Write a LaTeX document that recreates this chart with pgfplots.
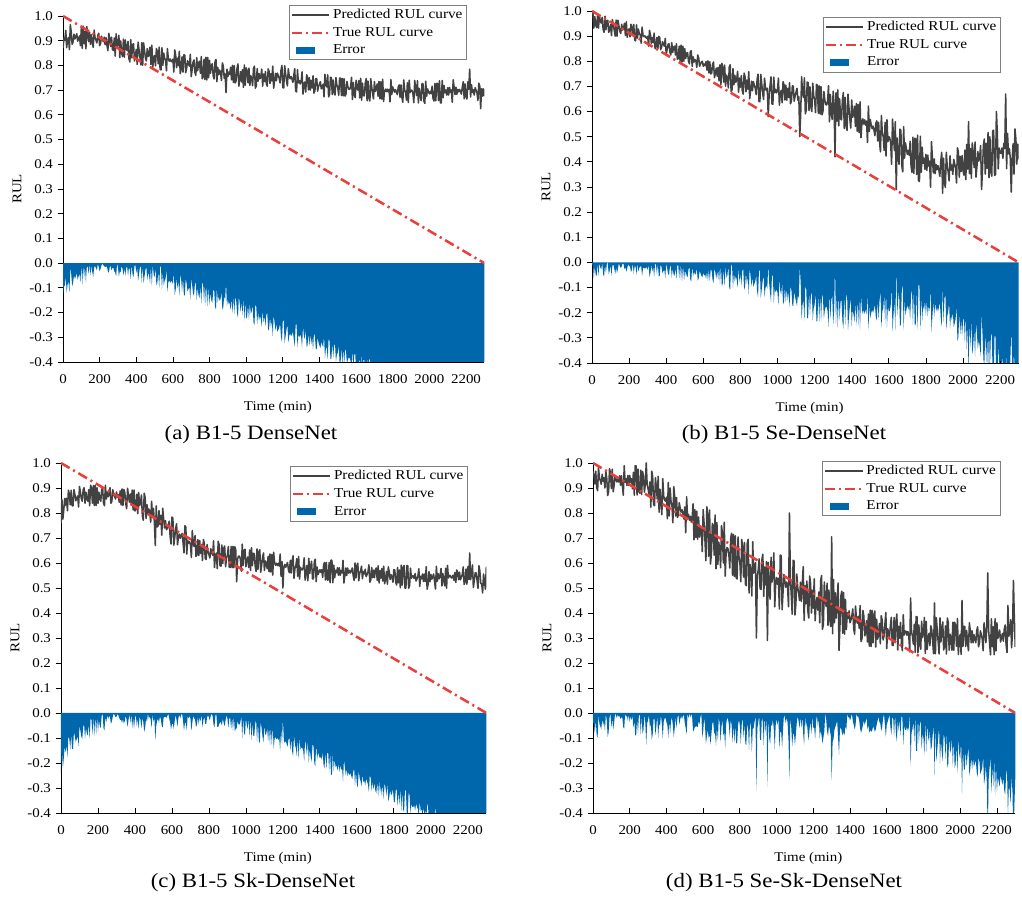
\documentclass[border=0pt]{standalone}
\usepackage{fontspec}
\setmainfont{Liberation Serif}[FakeStretch=1.12]
\usepackage{pgfplots}
\usepackage{pgfplotstable}
\pgfplotsset{compat=1.18}

\definecolor{predgray}{RGB}{66,66,66}
\definecolor{truered}{RGB}{232,64,60}
\definecolor{errblue}{RGB}{0,103,172}

% predicted RUL, one value every 5 min
\pgfplotstableread[row sep=\\]{
t p\\
0 0.870\\ 5 0.911\\ 10 0.901\\ 15 0.942\\ 20 0.872\\ 25 0.903\\ 30 0.913\\ 35 0.864\\ 40 0.965\\ 45 0.935\\ 50 0.885\\ 55 0.896\\ 60 0.926\\ 65 0.907\\ 70 0.917\\ 75 0.928\\ 80 0.898\\ 85 0.909\\ 90 0.919\\ 95 0.880\\
100 0.950\\ 105 0.869\\ 110 0.959\\ 115 0.888\\ 120 0.938\\ 125 0.867\\ 130 0.957\\ 135 0.926\\ 140 0.896\\ 145 0.935\\ 150 0.885\\ 155 0.924\\ 160 0.894\\ 165 0.873\\ 170 0.943\\ 175 0.912\\ 180 0.902\\ 185 0.891\\ 190 0.921\\ 195 0.930\\
200 0.880\\ 205 0.888\\ 210 0.918\\ 215 0.906\\ 220 0.896\\ 225 0.914\\ 230 0.884\\ 235 0.912\\ 240 0.882\\ 245 0.860\\ 250 0.930\\ 255 0.907\\ 260 0.877\\ 265 0.914\\ 270 0.864\\ 275 0.861\\ 280 0.911\\ 285 0.838\\ 290 0.928\\ 295 0.875\\
300 0.885\\ 305 0.922\\ 310 0.832\\ 315 0.899\\ 320 0.849\\ 325 0.836\\ 330 0.906\\ 335 0.833\\ 340 0.903\\ 345 0.870\\ 350 0.860\\ 355 0.897\\ 360 0.827\\ 365 0.814\\ 370 0.904\\ 375 0.831\\ 380 0.881\\ 385 0.888\\ 390 0.818\\ 395 0.835\\
400 0.865\\ 405 0.804\\ 410 0.894\\ 415 0.863\\ 420 0.833\\ 425 0.802\\ 430 0.892\\ 435 0.801\\ 440 0.891\\ 445 0.860\\ 450 0.830\\ 455 0.818\\ 460 0.868\\ 465 0.836\\ 470 0.846\\ 475 0.874\\ 480 0.804\\ 485 0.882\\ 490 0.792\\ 495 0.830\\
500 0.840\\ 505 0.798\\ 510 0.868\\ 515 0.856\\ 520 0.806\\ 525 0.874\\ 530 0.784\\ 535 0.782\\ 540 0.872\\ 545 0.800\\ 550 0.850\\ 555 0.829\\ 560 0.819\\ 565 0.778\\ 570 0.868\\ 575 0.827\\ 580 0.817\\ 585 0.826\\ 590 0.816\\ 595 0.815\\
600 0.825\\ 605 0.773\\ 610 0.863\\ 615 0.841\\ 620 0.791\\ 625 0.829\\ 630 0.799\\ 635 0.857\\ 640 0.767\\ 645 0.785\\ 650 0.835\\ 655 0.773\\ 660 0.843\\ 665 0.841\\ 670 0.771\\ 675 0.789\\ 680 0.819\\ 685 0.807\\ 690 0.797\\ 695 0.845\\
700 0.755\\ 705 0.783\\ 710 0.814\\ 715 0.822\\ 720 0.772\\ 725 0.760\\ 730 0.831\\ 735 0.779\\ 740 0.809\\ 745 0.817\\ 750 0.768\\ 755 0.836\\ 760 0.746\\ 765 0.754\\ 770 0.825\\ 775 0.743\\ 780 0.833\\ 785 0.741\\ 790 0.832\\ 795 0.750\\
800 0.820\\ 805 0.768\\ 810 0.799\\ 815 0.807\\ 820 0.757\\ 825 0.745\\ 830 0.816\\ 835 0.824\\ 840 0.734\\ 845 0.792\\ 850 0.763\\ 855 0.781\\ 860 0.771\\ 865 0.739\\ 870 0.810\\ 875 0.798\\ 880 0.748\\ 885 0.766\\ 890 0.690\\ 895 0.785\\
900 0.755\\ 905 0.773\\ 910 0.764\\ 915 0.792\\ 920 0.742\\ 925 0.800\\ 930 0.731\\ 935 0.799\\ 940 0.729\\ 945 0.737\\ 950 0.788\\ 955 0.806\\ 960 0.716\\ 965 0.744\\ 970 0.775\\ 975 0.733\\ 980 0.783\\ 985 0.711\\ 990 0.802\\ 995 0.720\\
1000 0.790\\ 1005 0.779\\ 1010 0.730\\ 1015 0.789\\ 1020 0.719\\ 1025 0.758\\ 1030 0.749\\ 1035 0.718\\ 1040 0.788\\ 1045 0.797\\ 1050 0.708\\ 1055 0.717\\ 1060 0.787\\ 1065 0.736\\ 1070 0.767\\ 1075 0.746\\ 1080 0.756\\ 1085 0.785\\ 1090 0.716\\ 1095 0.765\\
1100 0.735\\ 1105 0.775\\ 1110 0.726\\ 1115 0.716\\ 1120 0.786\\ 1125 0.776\\ 1130 0.727\\ 1135 0.767\\ 1140 0.737\\ 1145 0.797\\ 1150 0.708\\ 1155 0.738\\ 1160 0.768\\ 1165 0.738\\ 1170 0.769\\ 1175 0.759\\ 1180 0.749\\ 1185 0.729\\ 1190 0.780\\ 1195 0.800\\
1200 0.710\\ 1205 0.709\\ 1210 0.799\\ 1215 0.768\\ 1220 0.738\\ 1225 0.717\\ 1230 0.787\\ 1235 0.756\\ 1240 0.746\\ 1245 0.755\\ 1250 0.745\\ 1255 0.731\\ 1260 0.761\\ 1265 0.787\\ 1270 0.697\\ 1275 0.693\\ 1280 0.783\\ 1285 0.729\\ 1290 0.739\\ 1295 0.725\\
1300 0.735\\ 1305 0.774\\ 1310 0.684\\ 1315 0.723\\ 1320 0.733\\ 1325 0.692\\ 1330 0.762\\ 1335 0.751\\ 1340 0.701\\ 1345 0.750\\ 1350 0.700\\ 1355 0.739\\ 1360 0.709\\ 1365 0.758\\ 1370 0.688\\ 1375 0.697\\ 1380 0.747\\ 1385 0.746\\ 1390 0.696\\ 1395 0.715\\
1400 0.725\\ 1405 0.734\\ 1410 0.705\\ 1415 0.714\\ 1420 0.724\\ 1425 0.673\\ 1430 0.764\\ 1435 0.723\\ 1440 0.713\\ 1445 0.762\\ 1450 0.673\\ 1455 0.682\\ 1460 0.752\\ 1465 0.751\\ 1470 0.682\\ 1475 0.741\\ 1480 0.691\\ 1485 0.680\\ 1490 0.751\\ 1495 0.720\\
1500 0.710\\ 1505 0.679\\ 1510 0.749\\ 1515 0.748\\ 1520 0.678\\ 1525 0.747\\ 1530 0.677\\ 1535 0.746\\ 1540 0.676\\ 1545 0.685\\ 1550 0.735\\ 1555 0.714\\ 1560 0.704\\ 1565 0.703\\ 1570 0.713\\ 1575 0.752\\ 1580 0.662\\ 1585 0.731\\ 1590 0.681\\ 1595 0.670\\
1600 0.740\\ 1605 0.709\\ 1610 0.700\\ 1615 0.739\\ 1620 0.669\\ 1625 0.748\\ 1630 0.659\\ 1635 0.728\\ 1640 0.678\\ 1645 0.677\\ 1650 0.728\\ 1655 0.747\\ 1660 0.657\\ 1665 0.736\\ 1670 0.667\\ 1675 0.656\\ 1680 0.746\\ 1685 0.715\\ 1690 0.686\\ 1695 0.665\\
1700 0.735\\ 1705 0.695\\ 1710 0.705\\ 1715 0.725\\ 1720 0.675\\ 1725 0.735\\ 1730 0.665\\ 1735 0.734\\ 1740 0.664\\ 1745 0.744\\ 1750 0.654\\ 1755 0.694\\ 1760 0.704\\ 1765 0.694\\ 1770 0.704\\ 1775 0.693\\ 1780 0.703\\ 1785 0.653\\ 1790 0.743\\ 1795 0.683\\
1800 0.713\\ 1805 0.702\\ 1810 0.692\\ 1815 0.702\\ 1820 0.692\\ 1825 0.682\\ 1830 0.712\\ 1835 0.721\\ 1840 0.671\\ 1845 0.721\\ 1850 0.671\\ 1855 0.651\\ 1860 0.741\\ 1865 0.700\\ 1870 0.690\\ 1875 0.660\\ 1880 0.730\\ 1885 0.650\\ 1890 0.740\\ 1895 0.690\\
1900 0.700\\ 1905 0.699\\ 1910 0.689\\ 1915 0.649\\ 1920 0.739\\ 1925 0.708\\ 1930 0.678\\ 1935 0.738\\ 1940 0.648\\ 1945 0.707\\ 1950 0.677\\ 1955 0.657\\ 1960 0.727\\ 1965 0.726\\ 1970 0.656\\ 1975 0.646\\ 1980 0.736\\ 1985 0.675\\ 1990 0.705\\ 1995 0.695\\
2000 0.685\\ 2005 0.695\\ 2010 0.686\\ 2015 0.716\\ 2020 0.666\\ 2025 0.656\\ 2030 0.727\\ 2035 0.657\\ 2040 0.727\\ 2045 0.727\\ 2050 0.658\\ 2055 0.738\\ 2060 0.648\\ 2065 0.648\\ 2070 0.739\\ 2075 0.669\\ 2080 0.719\\ 2085 0.689\\ 2090 0.700\\ 2095 0.680\\
2100 0.710\\ 2105 0.680\\ 2110 0.711\\ 2115 0.691\\ 2120 0.701\\ 2125 0.651\\ 2130 0.742\\ 2135 0.712\\ 2140 0.682\\ 2145 0.712\\ 2150 0.683\\ 2155 0.703\\ 2160 0.693\\ 2165 0.703\\ 2170 0.694\\ 2175 0.684\\ 2180 0.714\\ 2185 0.734\\ 2190 0.665\\ 2195 0.725\\
2200 0.675\\ 2205 0.664\\ 2210 0.734\\ 2215 0.703\\ 2220 0.785\\ 2225 0.672\\ 2230 0.722\\ 2235 0.691\\ 2240 0.701\\ 2245 0.680\\ 2250 0.710\\ 2255 0.699\\ 2260 0.689\\ 2265 0.658\\ 2270 0.728\\ 2275 0.717\\ 2280 0.625\\ 2285 0.706\\ 2290 0.676\\ 2295 0.705\\
2300 0.675\\
}\tabA

\pgfplotstableread[row sep=\\]{
t p\\
0 0.985\\ 5 0.994\\ 10 0.932\\ 15 0.978\\ 20 0.944\\ 25 0.934\\ 30 0.984\\ 35 0.932\\ 40 0.982\\ 45 0.958\\ 50 0.952\\ 55 0.975\\ 60 0.927\\ 65 0.915\\ 70 0.979\\ 75 0.925\\ 80 0.961\\ 85 0.963\\ 90 0.915\\ 95 0.924\\
100 0.946\\ 105 0.902\\ 110 0.966\\ 115 0.943\\ 120 0.923\\ 125 0.900\\ 130 0.964\\ 135 0.899\\ 140 0.963\\ 145 0.940\\ 150 0.920\\ 155 0.911\\ 160 0.947\\ 165 0.924\\ 170 0.932\\ 175 0.951\\ 180 0.903\\ 185 0.957\\ 190 0.895\\ 195 0.921\\
200 0.929\\ 205 0.897\\ 210 0.947\\ 215 0.936\\ 220 0.902\\ 225 0.947\\ 230 0.885\\ 235 0.881\\ 240 0.945\\ 245 0.892\\ 250 0.928\\ 255 0.910\\ 260 0.904\\ 265 0.872\\ 270 0.936\\ 275 0.904\\ 280 0.898\\ 285 0.901\\ 290 0.895\\ 295 0.891\\
300 0.899\\ 305 0.860\\ 310 0.923\\ 315 0.905\\ 320 0.871\\ 325 0.895\\ 330 0.874\\ 335 0.912\\ 340 0.850\\ 345 0.860\\ 350 0.895\\ 355 0.849\\ 360 0.899\\ 365 0.895\\ 370 0.846\\ 375 0.856\\ 380 0.878\\ 385 0.867\\ 390 0.860\\ 395 0.891\\
400 0.829\\ 405 0.846\\ 410 0.867\\ 415 0.870\\ 420 0.836\\ 425 0.825\\ 430 0.874\\ 435 0.835\\ 440 0.857\\ 445 0.860\\ 450 0.825\\ 455 0.870\\ 460 0.808\\ 465 0.811\\ 470 0.860\\ 475 0.800\\ 480 0.864\\ 485 0.797\\ 490 0.860\\ 495 0.800\\
500 0.850\\ 505 0.811\\ 510 0.832\\ 515 0.835\\ 520 0.801\\ 525 0.790\\ 530 0.839\\ 535 0.842\\ 540 0.780\\ 545 0.818\\ 550 0.797\\ 555 0.807\\ 560 0.801\\ 565 0.776\\ 570 0.825\\ 575 0.814\\ 580 0.780\\ 585 0.790\\ 590 0.797\\ 595 0.800\\
600 0.780\\ 605 0.789\\ 610 0.783\\ 615 0.799\\ 620 0.765\\ 625 0.802\\ 630 0.754\\ 635 0.798\\ 640 0.750\\ 645 0.752\\ 650 0.788\\ 655 0.797\\ 660 0.735\\ 665 0.751\\ 670 0.773\\ 675 0.740\\ 680 0.776\\ 685 0.722\\ 690 0.786\\ 695 0.708\\
700 0.792\\ 705 0.776\\ 710 0.717\\ 715 0.785\\ 720 0.701\\ 725 0.745\\ 730 0.734\\ 735 0.694\\ 740 0.778\\ 745 0.786\\ 750 0.679\\ 755 0.687\\ 760 0.771\\ 765 0.707\\ 770 0.744\\ 775 0.716\\ 780 0.728\\ 785 0.760\\ 790 0.677\\ 795 0.733\\
800 0.697\\ 805 0.743\\ 810 0.683\\ 815 0.669\\ 820 0.753\\ 825 0.739\\ 830 0.679\\ 835 0.725\\ 840 0.689\\ 845 0.759\\ 850 0.651\\ 855 0.685\\ 860 0.721\\ 865 0.683\\ 870 0.719\\ 875 0.705\\ 880 0.693\\ 885 0.667\\ 890 0.727\\ 895 0.749\\
900 0.641\\ 905 0.639\\ 910 0.748\\ 915 0.710\\ 920 0.674\\ 925 0.648\\ 930 0.733\\ 935 0.695\\ 940 0.683\\ 945 0.693\\ 950 0.580\\ 955 0.668\\ 960 0.704\\ 965 0.738\\ 970 0.631\\ 975 0.629\\ 980 0.737\\ 985 0.675\\ 990 0.688\\ 995 0.674\\
1000 0.686\\ 1005 0.733\\ 1010 0.625\\ 1015 0.672\\ 1020 0.684\\ 1025 0.635\\ 1030 0.719\\ 1035 0.706\\ 1040 0.646\\ 1045 0.705\\ 1050 0.645\\ 1055 0.692\\ 1060 0.656\\ 1065 0.715\\ 1070 0.631\\ 1075 0.642\\ 1080 0.702\\ 1085 0.701\\ 1090 0.641\\ 1095 0.662\\
1100 0.678\\ 1105 0.692\\ 1110 0.645\\ 1115 0.659\\ 1120 0.500\\ 1125 0.593\\ 1130 0.738\\ 1135 0.672\\ 1140 0.656\\ 1145 0.734\\ 1150 0.591\\ 1155 0.605\\ 1160 0.717\\ 1165 0.715\\ 1170 0.604\\ 1175 0.698\\ 1180 0.618\\ 1185 0.600\\ 1190 0.713\\ 1195 0.663\\
1200 0.647\\ 1205 0.596\\ 1210 0.708\\ 1215 0.705\\ 1220 0.593\\ 1225 0.702\\ 1230 0.590\\ 1235 0.699\\ 1240 0.587\\ 1245 0.600\\ 1250 0.680\\ 1255 0.645\\ 1260 0.629\\ 1265 0.626\\ 1270 0.642\\ 1275 0.703\\ 1280 0.559\\ 1285 0.668\\ 1290 0.588\\ 1295 0.569\\
1300 0.681\\ 1305 0.629\\ 1310 0.420\\ 1315 0.674\\ 1320 0.562\\ 1325 0.686\\ 1330 0.543\\ 1335 0.651\\ 1340 0.571\\ 1345 0.567\\ 1350 0.648\\ 1355 0.676\\ 1360 0.532\\ 1365 0.656\\ 1370 0.545\\ 1375 0.525\\ 1380 0.669\\ 1385 0.617\\ 1390 0.570\\ 1395 0.534\\
1400 0.646\\ 1405 0.577\\ 1410 0.594\\ 1415 0.621\\ 1420 0.541\\ 1425 0.632\\ 1430 0.521\\ 1435 0.628\\ 1440 0.516\\ 1445 0.639\\ 1450 0.496\\ 1455 0.555\\ 1460 0.571\\ 1465 0.550\\ 1470 0.567\\ 1475 0.546\\ 1480 0.562\\ 1485 0.477\\ 1490 0.622\\ 1495 0.521\\
1500 0.569\\ 1505 0.547\\ 1510 0.532\\ 1515 0.542\\ 1520 0.526\\ 1525 0.504\\ 1530 0.553\\ 1535 0.563\\ 1540 0.483\\ 1545 0.557\\ 1550 0.478\\ 1555 0.440\\ 1560 0.584\\ 1565 0.514\\ 1570 0.499\\ 1575 0.445\\ 1580 0.557\\ 1585 0.423\\ 1590 0.568\\ 1595 0.480\\
1600 0.500\\ 1605 0.495\\ 1610 0.475\\ 1615 0.390\\ 1620 0.570\\ 1625 0.505\\ 1630 0.445\\ 1635 0.560\\ 1640 0.290\\ 1645 0.495\\ 1650 0.435\\ 1655 0.390\\ 1660 0.530\\ 1665 0.525\\ 1670 0.385\\ 1675 0.360\\ 1680 0.540\\ 1685 0.415\\ 1690 0.475\\ 1695 0.450\\
1700 0.430\\ 1705 0.446\\ 1710 0.426\\ 1715 0.482\\ 1720 0.382\\ 1725 0.358\\ 1730 0.498\\ 1735 0.354\\ 1740 0.494\\ 1745 0.490\\ 1750 0.350\\ 1755 0.506\\ 1760 0.326\\ 1765 0.322\\ 1770 0.502\\ 1775 0.358\\ 1780 0.458\\ 1785 0.394\\ 1790 0.414\\ 1795 0.370\\
1800 0.430\\ 1805 0.366\\ 1810 0.427\\ 1815 0.383\\ 1820 0.403\\ 1825 0.299\\ 1830 0.480\\ 1835 0.416\\ 1840 0.356\\ 1845 0.412\\ 1850 0.353\\ 1855 0.389\\ 1860 0.369\\ 1865 0.385\\ 1870 0.366\\ 1875 0.342\\ 1880 0.402\\ 1885 0.438\\ 1890 0.275\\ 1895 0.415\\
1900 0.315\\ 1905 0.298\\ 1910 0.438\\ 1915 0.381\\ 1920 0.361\\ 1925 0.324\\ 1930 0.424\\ 1935 0.367\\ 1940 0.387\\ 1945 0.350\\ 1950 0.410\\ 1955 0.393\\ 1960 0.373\\ 1965 0.316\\ 1970 0.456\\ 1975 0.439\\ 1980 0.339\\ 1985 0.422\\ 1990 0.362\\ 1995 0.425\\
2000 0.365\\ 2005 0.347\\ 2010 0.447\\ 2015 0.329\\ 2020 0.469\\ 2025 0.371\\ 2030 0.560\\ 2035 0.353\\ 2040 0.453\\ 2045 0.335\\ 2050 0.475\\ 2055 0.437\\ 2060 0.377\\ 2065 0.479\\ 2070 0.339\\ 2075 0.381\\ 2080 0.441\\ 2085 0.403\\ 2090 0.423\\ 2095 0.465\\
2100 0.290\\ 2105 0.368\\ 2110 0.468\\ 2115 0.491\\ 2120 0.351\\ 2125 0.474\\ 2130 0.374\\ 2135 0.517\\ 2140 0.337\\ 2145 0.500\\ 2150 0.360\\ 2155 0.343\\ 2160 0.523\\ 2165 0.526\\ 2170 0.346\\ 2175 0.349\\ 2180 0.600\\ 2185 0.512\\ 2190 0.372\\ 2195 0.455\\
2200 0.435\\ 2205 0.434\\ 2210 0.455\\ 2215 0.414\\ 2220 0.474\\ 2225 0.453\\ 2230 0.670\\ 2235 0.373\\ 2240 0.513\\ 2245 0.432\\ 2250 0.453\\ 2255 0.412\\ 2260 0.280\\ 2265 0.411\\ 2270 0.472\\ 2275 0.351\\ 2280 0.531\\ 2285 0.490\\ 2290 0.391\\ 2295 0.470\\
2300 0.410\\
}\tabB

\pgfplotstableread[row sep=\\]{
t p\\
0 0.760\\ 5 0.855\\ 10 0.775\\ 15 0.812\\ 20 0.858\\ 25 0.831\\ 30 0.859\\ 35 0.809\\ 40 0.891\\ 45 0.877\\ 50 0.833\\ 55 0.891\\ 60 0.829\\ 65 0.829\\ 70 0.893\\ 75 0.875\\ 80 0.849\\ 85 0.858\\ 90 0.868\\ 95 0.824\\
100 0.906\\ 105 0.883\\ 110 0.857\\ 115 0.847\\ 120 0.893\\ 125 0.901\\ 130 0.839\\ 135 0.883\\ 140 0.857\\ 145 0.847\\ 150 0.893\\ 155 0.829\\ 160 0.911\\ 165 0.901\\ 170 0.839\\ 175 0.910\\ 180 0.830\\ 185 0.910\\ 190 0.830\\ 195 0.901\\
200 0.839\\ 205 0.883\\ 210 0.857\\ 215 0.847\\ 220 0.893\\ 225 0.901\\ 230 0.839\\ 235 0.829\\ 240 0.911\\ 245 0.856\\ 250 0.884\\ 255 0.865\\ 260 0.875\\ 265 0.901\\ 270 0.839\\ 275 0.847\\ 280 0.893\\ 285 0.874\\ 290 0.866\\ 295 0.856\\
300 0.884\\ 305 0.863\\ 310 0.873\\ 315 0.843\\ 320 0.889\\ 325 0.832\\ 330 0.896\\ 335 0.830\\ 340 0.894\\ 345 0.882\\ 350 0.838\\ 355 0.817\\ 360 0.899\\ 365 0.869\\ 370 0.843\\ 375 0.876\\ 380 0.832\\ 385 0.892\\ 390 0.812\\ 395 0.892\\
400 0.808\\ 405 0.815\\ 410 0.875\\ 415 0.798\\ 420 0.882\\ 425 0.829\\ 430 0.841\\ 435 0.872\\ 440 0.788\\ 445 0.771\\ 450 0.879\\ 455 0.862\\ 460 0.778\\ 465 0.833\\ 470 0.797\\ 475 0.816\\ 480 0.804\\ 485 0.763\\ 490 0.847\\ 495 0.782\\
500 0.818\\ 505 0.763\\ 510 0.670\\ 515 0.828\\ 520 0.744\\ 525 0.749\\ 530 0.809\\ 535 0.754\\ 540 0.790\\ 545 0.711\\ 550 0.819\\ 555 0.776\\ 560 0.740\\ 565 0.769\\ 570 0.733\\ 575 0.738\\ 580 0.750\\ 585 0.767\\ 590 0.707\\ 595 0.676\\
600 0.784\\ 605 0.779\\ 610 0.671\\ 615 0.702\\ 620 0.738\\ 625 0.757\\ 630 0.673\\ 635 0.704\\ 640 0.716\\ 645 0.699\\ 650 0.711\\ 655 0.718\\ 660 0.682\\ 665 0.641\\ 670 0.749\\ 675 0.744\\ 680 0.636\\ 685 0.691\\ 690 0.679\\ 695 0.686\\
700 0.674\\ 705 0.622\\ 710 0.730\\ 715 0.678\\ 720 0.666\\ 725 0.710\\ 730 0.626\\ 735 0.634\\ 740 0.694\\ 745 0.630\\ 750 0.690\\ 755 0.638\\ 760 0.674\\ 765 0.610\\ 770 0.694\\ 775 0.678\\ 780 0.618\\ 785 0.614\\ 790 0.674\\ 795 0.646\\
800 0.634\\ 805 0.620\\ 810 0.657\\ 815 0.643\\ 820 0.631\\ 825 0.689\\ 830 0.582\\ 835 0.628\\ 840 0.640\\ 845 0.578\\ 850 0.687\\ 855 0.673\\ 860 0.589\\ 865 0.587\\ 870 0.672\\ 875 0.598\\ 880 0.658\\ 885 0.668\\ 890 0.585\\ 895 0.619\\
900 0.631\\ 905 0.666\\ 910 0.583\\ 915 0.582\\ 920 0.666\\ 925 0.581\\ 930 0.666\\ 935 0.581\\ 940 0.665\\ 945 0.652\\ 950 0.525\\ 955 0.616\\ 960 0.628\\ 965 0.627\\ 970 0.616\\ 975 0.567\\ 980 0.675\\ 985 0.590\\ 990 0.651\\ 995 0.655\\
1000 0.585\\ 1005 0.613\\ 1010 0.624\\ 1015 0.582\\ 1020 0.652\\ 1025 0.570\\ 1030 0.661\\ 1035 0.589\\ 1040 0.639\\ 1045 0.637\\ 1050 0.588\\ 1055 0.566\\ 1060 0.656\\ 1065 0.574\\ 1070 0.645\\ 1075 0.653\\ 1080 0.563\\ 1085 0.591\\ 1090 0.622\\ 1095 0.640\\
1100 0.570\\ 1105 0.608\\ 1110 0.599\\ 1115 0.577\\ 1120 0.627\\ 1125 0.565\\ 1130 0.636\\ 1135 0.564\\ 1140 0.634\\ 1145 0.552\\ 1150 0.643\\ 1155 0.601\\ 1160 0.591\\ 1165 0.599\\ 1170 0.590\\ 1175 0.598\\ 1180 0.588\\ 1185 0.636\\ 1190 0.547\\ 1195 0.605\\
1200 0.500\\ 1205 0.584\\ 1210 0.594\\ 1215 0.583\\ 1220 0.593\\ 1225 0.602\\ 1230 0.572\\ 1235 0.561\\ 1240 0.611\\ 1245 0.560\\ 1250 0.610\\ 1255 0.629\\ 1260 0.539\\ 1265 0.578\\ 1270 0.588\\ 1275 0.617\\ 1280 0.547\\ 1285 0.626\\ 1290 0.536\\ 1295 0.583\\
1300 0.573\\ 1305 0.572\\ 1310 0.582\\ 1315 0.621\\ 1320 0.531\\ 1325 0.560\\ 1330 0.590\\ 1335 0.529\\ 1340 0.619\\ 1345 0.558\\ 1350 0.588\\ 1355 0.607\\ 1360 0.537\\ 1365 0.536\\ 1370 0.606\\ 1375 0.615\\ 1380 0.525\\ 1385 0.584\\ 1390 0.554\\ 1395 0.563\\
1400 0.573\\ 1405 0.563\\ 1410 0.573\\ 1415 0.542\\ 1420 0.592\\ 1425 0.602\\ 1430 0.532\\ 1435 0.602\\ 1440 0.532\\ 1445 0.532\\ 1450 0.602\\ 1455 0.521\\ 1460 0.611\\ 1465 0.611\\ 1470 0.521\\ 1475 0.591\\ 1480 0.541\\ 1485 0.571\\ 1490 0.561\\ 1495 0.581\\
1500 0.551\\ 1505 0.581\\ 1510 0.551\\ 1515 0.570\\ 1520 0.560\\ 1525 0.610\\ 1530 0.520\\ 1535 0.550\\ 1540 0.580\\ 1545 0.550\\ 1550 0.580\\ 1555 0.560\\ 1560 0.570\\ 1565 0.560\\ 1570 0.570\\ 1575 0.580\\ 1580 0.550\\ 1585 0.530\\ 1590 0.600\\ 1595 0.540\\
1600 0.590\\ 1605 0.599\\ 1610 0.529\\ 1615 0.558\\ 1620 0.568\\ 1625 0.587\\ 1630 0.537\\ 1635 0.566\\ 1640 0.556\\ 1645 0.575\\ 1650 0.545\\ 1655 0.554\\ 1660 0.564\\ 1665 0.593\\ 1670 0.523\\ 1675 0.532\\ 1680 0.582\\ 1685 0.541\\ 1690 0.571\\ 1695 0.541\\
1700 0.572\\ 1705 0.580\\ 1710 0.531\\ 1715 0.589\\ 1720 0.520\\ 1725 0.569\\ 1730 0.539\\ 1735 0.578\\ 1740 0.528\\ 1745 0.587\\ 1750 0.517\\ 1755 0.536\\ 1760 0.566\\ 1765 0.515\\ 1770 0.585\\ 1775 0.564\\ 1780 0.534\\ 1785 0.553\\ 1790 0.544\\ 1795 0.523\\
1800 0.573\\ 1805 0.572\\ 1810 0.523\\ 1815 0.512\\ 1820 0.582\\ 1825 0.521\\ 1830 0.572\\ 1835 0.501\\ 1840 0.591\\ 1845 0.511\\ 1850 0.581\\ 1855 0.590\\ 1860 0.500\\ 1865 0.500\\ 1870 0.590\\ 1875 0.589\\ 1880 0.499\\ 1885 0.509\\ 1890 0.579\\ 1895 0.539\\
1900 0.549\\ 1905 0.548\\ 1910 0.538\\ 1915 0.558\\ 1920 0.528\\ 1925 0.537\\ 1930 0.547\\ 1935 0.577\\ 1940 0.507\\ 1945 0.547\\ 1950 0.537\\ 1955 0.556\\ 1960 0.526\\ 1965 0.556\\ 1970 0.526\\ 1975 0.585\\ 1980 0.495\\ 1985 0.515\\ 1990 0.565\\ 1995 0.525\\
2000 0.555\\ 2005 0.535\\ 2010 0.546\\ 2015 0.556\\ 2020 0.526\\ 2025 0.496\\ 2030 0.587\\ 2035 0.527\\ 2040 0.557\\ 2045 0.537\\ 2050 0.548\\ 2055 0.578\\ 2060 0.508\\ 2065 0.558\\ 2070 0.529\\ 2075 0.509\\ 2080 0.579\\ 2085 0.499\\ 2090 0.590\\ 2095 0.540\\
2100 0.550\\ 2105 0.550\\ 2110 0.541\\ 2115 0.541\\ 2120 0.551\\ 2125 0.531\\ 2130 0.562\\ 2135 0.522\\ 2140 0.572\\ 2145 0.562\\ 2150 0.533\\ 2155 0.563\\ 2160 0.533\\ 2165 0.543\\ 2170 0.554\\ 2175 0.584\\ 2180 0.514\\ 2185 0.524\\ 2190 0.575\\ 2195 0.515\\
2200 0.585\\ 2205 0.534\\ 2210 0.640\\ 2215 0.533\\ 2220 0.563\\ 2225 0.592\\ 2230 0.502\\ 2235 0.531\\ 2240 0.561\\ 2245 0.560\\ 2250 0.530\\ 2255 0.499\\ 2260 0.589\\ 2265 0.568\\ 2270 0.518\\ 2275 0.517\\ 2280 0.480\\ 2285 0.556\\ 2290 0.526\\ 2295 0.495\\
2300 0.585\\
}\tabC

\pgfplotstableread[row sep=\\]{
t p\\
0 0.965\\ 5 0.954\\ 10 0.916\\ 15 0.967\\ 20 0.903\\ 25 0.889\\ 30 0.981\\ 35 0.941\\ 40 0.929\\ 45 0.915\\ 50 0.955\\ 55 0.927\\ 60 0.941\\ 65 0.900\\ 70 0.966\\ 75 0.938\\ 80 0.870\\ 85 0.885\\ 90 0.977\\ 95 0.962\\
100 0.898\\ 105 0.975\\ 110 0.885\\ 115 0.910\\ 120 0.950\\ 125 0.936\\ 130 0.924\\ 135 0.936\\ 140 0.924\\ 145 0.949\\ 150 0.911\\ 155 0.949\\ 160 0.911\\ 165 0.871\\ 170 0.989\\ 175 0.923\\ 180 0.937\\ 185 0.910\\ 190 0.950\\ 195 0.910\\
200 0.950\\ 205 0.923\\ 210 0.937\\ 215 0.897\\ 220 0.963\\ 225 0.871\\ 230 0.989\\ 235 0.988\\ 240 0.872\\ 245 0.975\\ 250 0.885\\ 255 0.879\\ 260 0.971\\ 265 0.874\\ 270 0.966\\ 275 0.947\\ 280 0.883\\ 285 0.916\\ 290 1.000\\ 295 0.913\\
300 0.897\\ 305 0.876\\ 310 0.924\\ 315 0.823\\ 320 0.967\\ 325 0.946\\ 330 0.834\\ 335 0.829\\ 340 0.941\\ 345 0.904\\ 350 0.856\\ 355 0.947\\ 360 0.803\\ 365 0.894\\ 370 0.846\\ 375 0.793\\ 380 0.937\\ 385 0.868\\ 390 0.852\\ 395 0.847\\
400 0.863\\ 405 0.777\\ 410 0.922\\ 415 0.788\\ 420 0.900\\ 425 0.846\\ 430 0.831\\ 435 0.761\\ 440 0.905\\ 445 0.867\\ 450 0.788\\ 455 0.862\\ 460 0.782\\ 465 0.792\\ 470 0.841\\ 475 0.819\\ 480 0.803\\ 485 0.813\\ 490 0.798\\ 495 0.776\\
500 0.824\\ 505 0.721\\ 510 0.865\\ 515 0.778\\ 520 0.794\\ 525 0.771\\ 530 0.787\\ 535 0.764\\ 540 0.780\\ 545 0.837\\ 550 0.693\\ 555 0.814\\ 560 0.702\\ 565 0.807\\ 570 0.695\\ 575 0.784\\ 580 0.704\\ 585 0.729\\ 590 0.745\\ 595 0.646\\
600 0.814\\ 605 0.759\\ 610 0.688\\ 615 0.609\\ 620 0.825\\ 625 0.794\\ 630 0.627\\ 635 0.812\\ 640 0.596\\ 645 0.637\\ 650 0.758\\ 655 0.751\\ 660 0.631\\ 665 0.792\\ 670 0.577\\ 675 0.762\\ 680 0.594\\ 685 0.683\\ 690 0.660\\ 695 0.581\\
700 0.749\\ 705 0.720\\ 710 0.600\\ 715 0.763\\ 720 0.547\\ 725 0.638\\ 730 0.662\\ 735 0.657\\ 740 0.633\\ 745 0.580\\ 750 0.700\\ 755 0.719\\ 760 0.551\\ 765 0.714\\ 770 0.546\\ 775 0.709\\ 780 0.541\\ 785 0.536\\ 790 0.704\\ 795 0.627\\
800 0.603\\ 805 0.525\\ 810 0.694\\ 815 0.664\\ 820 0.544\\ 825 0.682\\ 830 0.515\\ 835 0.509\\ 840 0.677\\ 845 0.695\\ 850 0.480\\ 855 0.594\\ 860 0.570\\ 865 0.468\\ 870 0.685\\ 875 0.559\\ 880 0.583\\ 885 0.601\\ 890 0.300\\ 895 0.548\\
900 0.572\\ 905 0.617\\ 910 0.497\\ 915 0.494\\ 920 0.614\\ 925 0.635\\ 930 0.467\\ 935 0.584\\ 940 0.512\\ 945 0.605\\ 950 0.290\\ 955 0.602\\ 960 0.482\\ 965 0.455\\ 970 0.623\\ 975 0.524\\ 980 0.548\\ 985 0.641\\ 990 0.425\\ 995 0.518\\
1000 0.542\\ 1005 0.515\\ 1010 0.539\\ 1015 0.416\\ 1020 0.632\\ 1025 0.629\\ 1030 0.413\\ 1035 0.482\\ 1040 0.554\\ 1045 0.527\\ 1050 0.503\\ 1055 0.524\\ 1060 0.500\\ 1065 0.425\\ 1070 0.800\\ 1075 0.542\\ 1080 0.470\\ 1085 0.395\\ 1090 0.611\\ 1095 0.608\\
1100 0.392\\ 1105 0.435\\ 1110 0.556\\ 1115 0.503\\ 1120 0.479\\ 1125 0.450\\ 1130 0.523\\ 1135 0.446\\ 1140 0.518\\ 1145 0.585\\ 1150 0.370\\ 1155 0.509\\ 1160 0.437\\ 1165 0.528\\ 1170 0.409\\ 1175 0.380\\ 1180 0.548\\ 1185 0.519\\ 1190 0.400\\ 1195 0.491\\
1200 0.419\\ 1205 0.536\\ 1210 0.369\\ 1215 0.438\\ 1220 0.462\\ 1225 0.411\\ 1230 0.484\\ 1235 0.361\\ 1240 0.529\\ 1245 0.550\\ 1250 0.335\\ 1255 0.356\\ 1260 0.524\\ 1265 0.449\\ 1270 0.426\\ 1275 0.519\\ 1280 0.351\\ 1285 0.492\\ 1290 0.373\\ 1295 0.346\\
1300 0.705\\ 1305 0.317\\ 1310 0.534\\ 1315 0.361\\ 1320 0.481\\ 1325 0.380\\ 1330 0.453\\ 1335 0.520\\ 1340 0.250\\ 1345 0.347\\ 1350 0.468\\ 1355 0.487\\ 1360 0.319\\ 1365 0.482\\ 1370 0.315\\ 1375 0.454\\ 1380 0.334\\ 1385 0.401\\ 1390 0.378\\ 1395 0.409\\
1400 0.361\\ 1405 0.372\\ 1410 0.389\\ 1415 0.416\\ 1420 0.336\\ 1425 0.315\\ 1430 0.428\\ 1435 0.375\\ 1440 0.359\\ 1445 0.386\\ 1450 0.339\\ 1455 0.430\\ 1460 0.286\\ 1465 0.297\\ 1470 0.410\\ 1475 0.389\\ 1480 0.309\\ 1485 0.320\\ 1490 0.369\\ 1495 0.284\\
1500 0.396\\ 1505 0.267\\ 1510 0.411\\ 1515 0.266\\ 1520 0.410\\ 1525 0.281\\ 1530 0.393\\ 1535 0.408\\ 1540 0.264\\ 1545 0.375\\ 1550 0.295\\ 1555 0.310\\ 1560 0.358\\ 1565 0.277\\ 1570 0.389\\ 1575 0.372\\ 1580 0.292\\ 1585 0.307\\ 1590 0.355\\ 1595 0.402\\
1600 0.258\\ 1605 0.337\\ 1610 0.321\\ 1615 0.304\\ 1620 0.352\\ 1625 0.383\\ 1630 0.271\\ 1635 0.270\\ 1640 0.382\\ 1645 0.285\\ 1650 0.365\\ 1655 0.396\\ 1660 0.252\\ 1665 0.347\\ 1670 0.299\\ 1675 0.362\\ 1680 0.282\\ 1685 0.249\\ 1690 0.393\\ 1695 0.312\\
1700 0.328\\ 1705 0.327\\ 1710 0.311\\ 1715 0.326\\ 1720 0.310\\ 1725 0.245\\ 1730 0.460\\ 1735 0.324\\ 1740 0.308\\ 1745 0.275\\ 1750 0.355\\ 1755 0.242\\ 1760 0.386\\ 1765 0.385\\ 1770 0.241\\ 1775 0.352\\ 1780 0.272\\ 1785 0.255\\ 1790 0.367\\ 1795 0.302\\
1800 0.318\\ 1805 0.382\\ 1810 0.238\\ 1815 0.366\\ 1820 0.254\\ 1825 0.302\\ 1830 0.318\\ 1835 0.269\\ 1840 0.349\\ 1845 0.333\\ 1850 0.285\\ 1855 0.237\\ 1860 0.440\\ 1865 0.237\\ 1870 0.381\\ 1875 0.333\\ 1880 0.285\\ 1885 0.236\\ 1890 0.380\\ 1895 0.284\\
1900 0.332\\ 1905 0.364\\ 1910 0.252\\ 1915 0.268\\ 1920 0.348\\ 1925 0.236\\ 1930 0.380\\ 1935 0.363\\ 1940 0.251\\ 1945 0.315\\ 1950 0.299\\ 1955 0.251\\ 1960 0.363\\ 1965 0.251\\ 1970 0.363\\ 1975 0.347\\ 1980 0.267\\ 1985 0.378\\ 1990 0.234\\ 1995 0.298\\
2000 0.314\\ 2005 0.234\\ 2010 0.450\\ 2015 0.266\\ 2020 0.346\\ 2025 0.346\\ 2030 0.266\\ 2035 0.330\\ 2040 0.282\\ 2045 0.249\\ 2050 0.361\\ 2055 0.329\\ 2060 0.281\\ 2065 0.329\\ 2070 0.281\\ 2075 0.313\\ 2080 0.297\\ 2085 0.281\\ 2090 0.329\\ 2095 0.345\\
2100 0.265\\ 2105 0.281\\ 2110 0.329\\ 2115 0.313\\ 2120 0.297\\ 2125 0.249\\ 2130 0.361\\ 2135 0.329\\ 2140 0.281\\ 2145 0.345\\ 2150 0.560\\ 2155 0.329\\ 2160 0.281\\ 2165 0.233\\ 2170 0.377\\ 2175 0.265\\ 2180 0.345\\ 2185 0.233\\ 2190 0.377\\ 2195 0.249\\
2200 0.361\\ 2205 0.298\\ 2210 0.315\\ 2215 0.332\\ 2220 0.284\\ 2225 0.301\\ 2230 0.318\\ 2235 0.287\\ 2240 0.335\\ 2245 0.352\\ 2250 0.273\\ 2255 0.242\\ 2260 0.430\\ 2265 0.307\\ 2270 0.324\\ 2275 0.373\\ 2280 0.261\\ 2285 0.326\\ 2290 0.530\\ 2295 0.376\\
2300 0.264\\
}\tabD

\pgfplotsset{
  rulpanel/.style={
    scale only axis, xmin=0, xmax=2300, ymin=-0.4, ymax=1.0,
    axis x line*=bottom, axis y line*=left,
    axis line style={-, line width=0.6pt, black},
    xtick={0,200,...,2200},
    ytick={-0.4,-0.3,-0.2,-0.1,0,0.1,0.2,0.3,0.4,0.5,0.6,0.7,0.8,0.9,1.0},
    tick align=inside, major tick length=4pt,
    tick style={line width=0.6pt, black},
    ytick style={xshift=-4pt},
    /pgf/number format/assume math mode=true,
    /pgf/number format/1000 sep={},
    ticklabel style={font=\fontsize{10}{12}\selectfont},
    yticklabel style={xshift=-4pt, /pgf/number format/.cd, fixed, fixed zerofill, precision=1},
    xticklabel style={yshift=-6pt},
    label style={font=\fontsize{10}{12}\selectfont},
    xlabel={Time (min)}, ylabel={RUL},
    xlabel style={at={(axis description cs:0.51,0)}, anchor=center, yshift=-34pt},
    ylabel style={at={(axis description cs:0,0.5)}, anchor=center, yshift=34.5pt},
    legend style={draw=gray, line width=0.5pt, fill=white,
      font=\fontsize{10.2}{12}\selectfont, anchor=north west,
      inner sep=1pt, row sep=1pt},
    legend cell align=left,
  },
  errarea/.style={draw=none, fill=errblue, forget plot},
  predline/.style={predgray, line width=1.15pt, line join=round,
    legend image code/.code={\draw[predgray, line width=1.8pt] (0pt,0pt) -- (28pt,0pt);}},
  trueline/.style={truered, line width=1.9pt, dash pattern=on 7.5pt off 3pt on 1.6pt off 3pt,
    legend image code/.code={\draw[truered, line width=1.9pt, dash pattern=on 7.5pt off 3pt on 1.6pt off 3pt] (0pt,0pt) -- (28pt,0pt);}},
  errlegend/.style={legend image code/.code={\fill[errblue] (3.75pt,-2.25pt) rectangle (17pt,2.25pt);}},
}

\begin{document}
\begin{tikzpicture}
\path[use as bounding box] (0,0) rectangle (766.5pt,674.25pt);

% (a)
\begin{axis}[rulpanel, at={(47.25pt,402.75pt)}, anchor=south west,
  width=316pt, height=259.5pt, legend style={at={(0.536,1.032)}}]
\addplot[errarea] table[x=t, y expr={-abs(\thisrow{p}-1+\thisrow{t}/2300)}] {\tabA} \closedcycle;
\addplot[predline] table[x=t, y=p] {\tabA};
\addlegendentry{Predicted RUL curve}
\addplot[trueline] coordinates {(0,1) (2300,0)};
\addlegendentry{True RUL curve}
\addlegendimage{errlegend}
\addlegendentry{Error}
\end{axis}

% (b)
\begin{axis}[rulpanel, at={(444pt,402pt)}, anchor=south west,
  width=320pt, height=264pt, legend style={at={(0.541,0.983)}}]
\addplot[errarea] table[x=t, y expr={-abs(\thisrow{p}-1+\thisrow{t}/2300)}] {\tabB} \closedcycle;
\addplot[predline] table[x=t, y=p] {\tabB};
\addlegendentry{Predicted RUL curve}
\addplot[trueline] coordinates {(0,1) (2300,0)};
\addlegendentry{True RUL curve}
\addlegendimage{errlegend}
\addlegendentry{Error}
\end{axis}

% (c)
\begin{axis}[rulpanel, at={(45.75pt,64.5pt)}, anchor=south west,
  width=319pt, height=262.5pt, legend style={at={(0.538,0.991)}}]
\addplot[errarea] table[x=t, y expr={-abs(\thisrow{p}-1+\thisrow{t}/2300)}] {\tabC} \closedcycle;
\addplot[predline] table[x=t, y=p] {\tabC};
\addlegendentry{Predicted RUL curve}
\addplot[trueline] coordinates {(0,1) (2300,0)};
\addlegendentry{True RUL curve}
\addlegendimage{errlegend}
\addlegendentry{Error}
\end{axis}

% (d)
\begin{axis}[rulpanel, at={(444.75pt,64.5pt)}, anchor=south west,
  width=316.7pt, height=262.5pt, legend style={at={(0.543,1.006)}}]
\addplot[errarea] table[x=t, y expr={-abs(\thisrow{p}-1+\thisrow{t}/2300)}] {\tabD} \closedcycle;
\addplot[predline] table[x=t, y=p] {\tabD};
\addlegendentry{Predicted RUL curve}
\addplot[trueline] coordinates {(0,1) (2300,0)};
\addlegendentry{True RUL curve}
\addlegendimage{errlegend}
\addlegendentry{Error}
\end{axis}

\begin{scope}[every node/.style={font=\fontsize{15.3}{18}\selectfont}]
\node at (188.25pt,348pt) {(a) B1-5 DenseNet};
\node at (588pt,348pt) {(b) B1-5 Se-DenseNet};
\node at (189.75pt,12pt) {(c) B1-5 Sk-DenseNet};
\node at (588pt,12pt) {(d) B1-5 Se-Sk-DenseNet};
\end{scope}
\end{tikzpicture}
\end{document}
